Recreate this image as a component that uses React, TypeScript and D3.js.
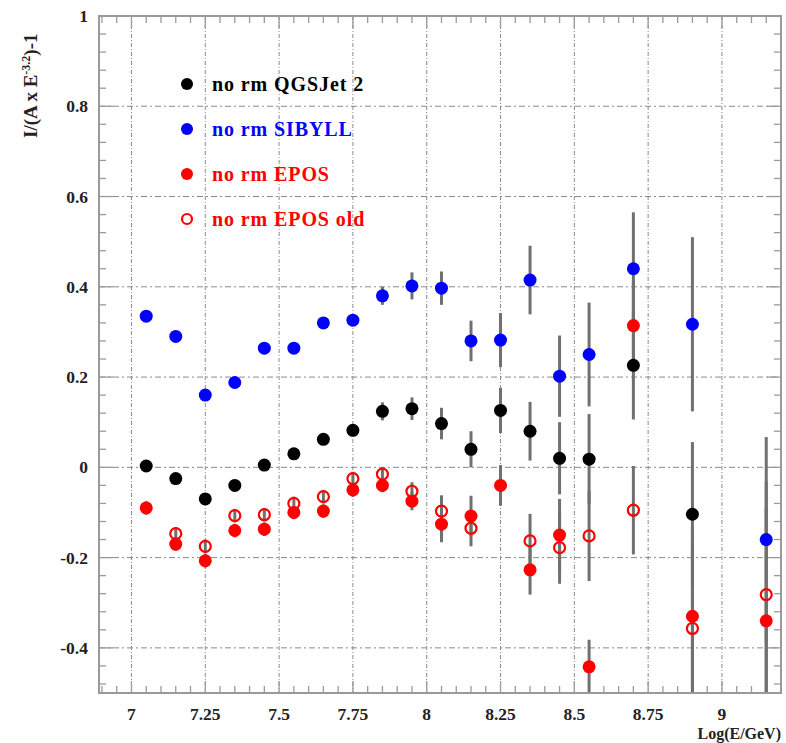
import React from "react";
import * as d3 from "d3";

// Energy bins (log10 E/GeV)
const energies = [7.05, 7.15, 7.25, 7.35, 7.45, 7.55, 7.65, 7.75, 7.85, 7.95, 8.05, 8.15, 8.25, 8.35, 8.45, 8.55, 8.7, 8.9, 9.15];

// QGSJet 2
const qgsValues = [0.003, -0.025, -0.07, -0.04, 0.005, 0.03, 0.062, 0.082, 0.124, 0.13, 0.097, 0.04, 0.126, 0.08, 0.02, 0.018, 0.226, -0.104, null];
const qgsErrors = [0.01, 0.01, 0.01, 0.01, 0.01, 0.01, 0.01, 0.01, 0.02, 0.025, 0.035, 0.04, 0.05, 0.065, 0.08, 0.1, 0.12, 0.16, null];

// SIBYLL
const sibValues = [0.335, 0.29, 0.16, 0.188, 0.264, 0.264, 0.32, 0.326, 0.38, 0.402, 0.397, 0.28, 0.282, 0.415, 0.202, 0.25, 0.44, 0.317, -0.16];
const sibErrors = [0.01, 0.01, 0.01, 0.01, 0.01, 0.01, 0.01, 0.01, 0.02, 0.03, 0.037, 0.045, 0.06, 0.076, 0.09, 0.115, 0.125, 0.193, 0.227];

// EPOS
const eposValues = [-0.09, -0.17, -0.207, -0.14, -0.137, -0.1, -0.097, -0.05, -0.04, -0.075, -0.126, -0.108, -0.04, -0.227, -0.15, -0.442, 0.314, -0.33, -0.34];
const eposErrors = [0.015, 0.015, 0.015, 0.015, 0.015, 0.015, 0.015, 0.015, 0.015, 0.02, 0.04, 0.045, 0.045, 0.055, 0.08, 0.06, 0.1, 0.2, 0.25];

// EPOS old
const eposOldValues = [null, -0.147, -0.175, -0.107, -0.105, -0.08, -0.065, -0.025, -0.015, -0.053, -0.097, -0.135, null, -0.163, -0.178, -0.152, -0.095, -0.357, -0.282];
const eposOldErrors = [null, 0.015, 0.015, 0.015, 0.015, 0.015, 0.015, 0.015, 0.015, 0.02, 0.035, 0.04, null, 0.06, 0.08, 0.1, 0.098, 0.2, 0.25];

const xTicks = [7, 7.25, 7.5, 7.75, 8, 8.25, 8.5, 8.75, 9];
const xTickLabels = ["7", "7.25", "7.5", "7.75", "8", "8.25", "8.5", "8.75", "9"];
const yTicks = [-0.4, -0.2, 0, 0.2, 0.4, 0.6, 0.8, 1];
const yTickLabels = ["-0.4", "-0.2", "0", "0.2", "0.4", "0.6", "0.8", "1"];

const legendLabels = ["no rm QGSJet 2", "no rm SIBYLL", "no rm EPOS", "no rm EPOS old"];

const W = 786;
const H = 743;
const M = { left: 99, right: 781, top: 16, bottom: 693 };

const x = d3.scaleLinear().domain([6.89, 9.2]).range([M.left, M.right]);
const y = d3.scaleLinear().domain([-0.5, 1.0]).range([M.bottom, M.top]);

const FONT = "'Liberation Serif', 'DejaVu Serif', serif";
const AXIS = "#9a9a9a";
const GRID = "#8a8a8a";
const BAR = "#707070";

type Series = { values: (number | null)[]; errors: (number | null)[]; color: string; open: boolean };

const series: Series[] = [
  { values: qgsValues, errors: qgsErrors, color: "#000000", open: false },
  { values: sibValues, errors: sibErrors, color: "#0000ff", open: false },
  { values: eposValues, errors: eposErrors, color: "#ff0000", open: false },
  { values: eposOldValues, errors: eposOldErrors, color: "#ff0000", open: true },
];

function clampY(v: number) {
  return Math.max(-0.5, Math.min(1.0, v));
}

export default function App() {
  const xMinor = d3.range(6.9, 9.2001, 0.05);
  const yMinor = d3.range(-0.48, 1.0001, 0.04);
  const isMajorX = (v: number) => Math.abs(v * 4 - Math.round(v * 4)) < 1e-6;
  const isMajorY = (v: number) => Math.abs(v * 5 - Math.round(v * 5)) < 1e-6;

  return (
    <svg
      width={W}
      height={H}
      style={{ position: "absolute", left: 0, top: 0, background: "#fff" }}
      fontFamily={FONT}
    >
      <rect x={0} y={0} width={W} height={H} fill="#fff" />

      {/* grid */}
      {xTicks.map((t) => (
        <line key={"gx" + t} x1={x(t)} x2={x(t)} y1={M.top} y2={M.bottom} stroke={GRID} strokeWidth={1} strokeDasharray="4,2,1,2" />
      ))}
      {yTicks.filter((t) => t < 1).map((t) => (
        <line key={"gy" + t} x1={M.left} x2={M.right} y1={y(t)} y2={y(t)} stroke={GRID} strokeWidth={1} strokeDasharray="6,3,2,3" />
      ))}

      {/* frame ticks */}
      {xMinor.map((t) => {
        const L = isMajorX(t) ? 12 : 7;
        return (
          <g key={"xt" + t.toFixed(2)}>
            <line x1={x(t)} x2={x(t)} y1={M.bottom} y2={M.bottom - L} stroke={AXIS} strokeWidth={1.3} />
            <line x1={x(t)} x2={x(t)} y1={M.top} y2={M.top + L} stroke={AXIS} strokeWidth={1.3} />
          </g>
        );
      })}
      {yMinor.map((t) => {
        const L = isMajorY(t) ? 14 : 7;
        return (
          <g key={"yt" + t.toFixed(2)}>
            <line x1={M.left} x2={M.left + L} y1={y(t)} y2={y(t)} stroke={AXIS} strokeWidth={1.3} />
            <line x1={M.right} x2={M.right - L} y1={y(t)} y2={y(t)} stroke={AXIS} strokeWidth={1.3} />
          </g>
        );
      })}

      {/* error bars */}
      {series.map((s, si) =>
        energies.map((e, i) => {
          const v = s.values[i];
          const err = s.errors[i];
          if (v == null || err == null) return null;
          return (
            <line
              key={"eb" + si + "-" + i}
              x1={x(e)}
              x2={x(e)}
              y1={y(clampY(v + err))}
              y2={y(clampY(v - err))}
              stroke={BAR}
              strokeWidth={3}
            />
          );
        })
      )}

      {/* markers */}
      {series.map((s, si) =>
        energies.map((e, i) => {
          const v = s.values[i];
          if (v == null) return null;
          return s.open ? (
            <circle key={"m" + si + "-" + i} cx={x(e)} cy={y(v)} r={5.5} fill="none" stroke={s.color} strokeWidth={2.2} />
          ) : (
            <circle key={"m" + si + "-" + i} cx={x(e)} cy={y(v)} r={6.5} fill={s.color} />
          );
        })
      )}

      {/* frame */}
      <rect x={M.left} y={M.top} width={M.right - M.left} height={M.bottom - M.top} fill="none" stroke={AXIS} strokeWidth={2} />

      {/* tick labels */}
      {xTicks.map((t, i) => (
        <text key={"xl" + t} x={x(t)} y={720} textAnchor="middle" fontSize={17.5} fontWeight="bold" fill="#222">
          {xTickLabels[i]}
        </text>
      ))}
      {yTicks.map((t, i) => (
        <text key={"yl" + t} x={88} y={y(t) + 6} textAnchor="end" fontSize={17.5} fontWeight="bold" fill="#222">
          {yTickLabels[i]}
        </text>
      ))}

      {/* axis titles */}
      <text x={781} y={739} textAnchor="end" fontSize={16} fontWeight="bold" fill="#222">
        Log(E/GeV)
      </text>
      <text transform="translate(37,138) rotate(-90)" fontSize={19} fontWeight="bold" fill="#222">
        <tspan>I/(A x E</tspan>
        <tspan dy={-7} fontSize={12}>-3.2</tspan>
        <tspan dy={7}>)-1</tspan>
      </text>

      {/* legend */}
      {series.map((s, i) => {
        const ly = 84 + i * 45;
        return (
          <g key={"lg" + i}>
            {s.open ? (
              <circle cx={187} cy={ly} r={5} fill="none" stroke={s.color} strokeWidth={2.2} />
            ) : (
              <circle cx={187} cy={ly} r={6} fill={s.color} />
            )}
            <text x={212} y={ly + 6.5} fontSize={20} fontWeight="bold" letterSpacing={0.9} fill={s.color}>
              {legendLabels[i]}
            </text>
          </g>
        );
      })}
    </svg>
  );
}
